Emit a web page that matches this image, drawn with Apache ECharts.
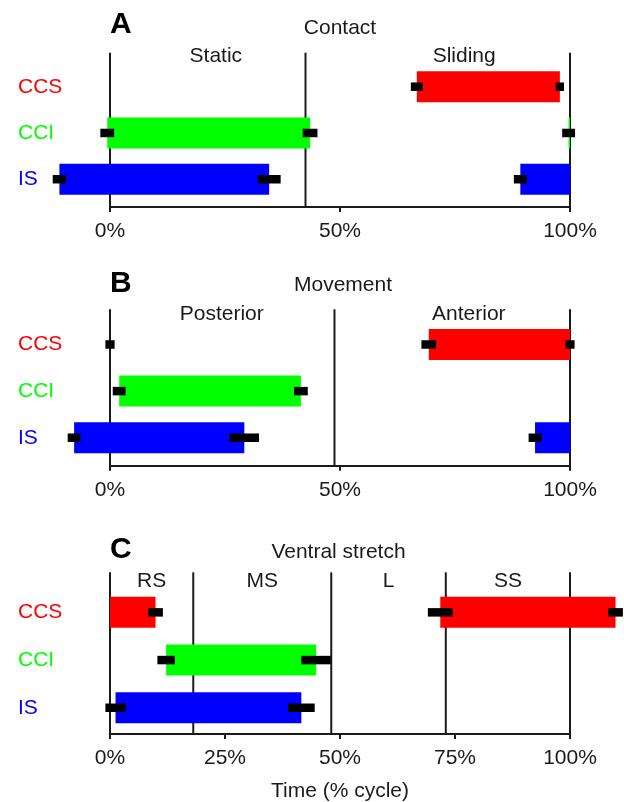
<!DOCTYPE html>
<html>
<head>
<meta charset="utf-8">
<script src="https://cdn.jsdelivr.net/npm/echarts@6/dist/echarts.min.js"></script>
<style>
  html, body { margin: 0; padding: 0; background: #fff; }
  #chart { width: 624px; height: 802px; }
</style>
</head>
<body>
<div id="chart"></div>
<script>
// Rows, listed top to bottom
const rows = ['CCS', 'CCI', 'IS'];
const rowColors = { CCS: '#ff0000', CCI: '#00ff00', IS: '#0000ff' };

// Phase bars: [row, onset %, offset %, onset SD, offset SD]
const contactBars = [
  ['CCS', 66.7, 97.8, 1.3, 0.9],
  ['CCI', -0.6, 43.5, 1.5, 1.6],
  ['CCI', 99.7, 100, 1.4, null],
  ['IS', -11.0, 34.6, 1.45, 2.5],
  ['IS', 89.2, 100, 1.4, null]
];
const contactBounds = [0, 42.5, 100];
const contactPhases = [['Static', 23], ['Sliding', 77]];

const movementBars = [
  ['CCS', 0, 0, 1.0, null],
  ['CCS', 69.3, 100, 1.6, 1.0],
  ['CCI', 2.0, 41.5, 1.4, 1.5],
  ['IS', -7.8, 29.2, 1.4, 3.2],
  ['IS', 92.4, 100, 1.4, null]
];
const movementBounds = [0, 48.8, 100];
const movementPhases = [['Posterior', 24.3], ['Anterior', 78]];

const stretchBars = [
  ['CCS', 0, 9.9, null, 1.6],
  ['CCS', 71.8, 109.9, 2.7, 1.6],
  ['CCI', 12.2, 44.8, 1.9, 3.2],
  ['IS', 1.2, 41.6, 2.2, 2.9]
];
const stretchBounds = [0, 18.1, 48.1, 73.0, 100];
const stretchPhaseNames = ['RS', 'MS', 'L', 'SS'];
// stretch phase names sit midway between consecutive bounds
const stretchPhases = stretchPhaseNames.map((n, i) => [n, (stretchBounds[i] + stretchBounds[i + 1]) / 2]);

// Tick labels on the time axis
const ticksAB = [0, 50, 100];
const ticksC = [0, 25, 50, 75, 100];

const INK = '#1a1a1a';
const FONT = '"Liberation Sans", Arial, Helvetica, sans-serif';
const BAR_H = 31;
const ERR_H = 8.5;
const PHASE_Y = 2.66;

const panels = [
  { letter: 'A', title: 'Contact', bars: contactBars, bounds: contactBounds, phases: contactPhases, ticks: ticksAB,
    top: 52.7, bottom: 207, yMin: -0.6, yMax: 2.735, letterY: 24.5, titleX: 340, titleY: 28.5 },
  { letter: 'B', title: 'Movement', bars: movementBars, bounds: movementBounds, phases: movementPhases, ticks: ticksAB,
    top: 309.3, bottom: 465.7, yMin: -0.6, yMax: 2.755, letterY: 283.5, titleX: 343, titleY: 285 },
  { letter: 'C', title: 'Ventral stretch', bars: stretchBars, bounds: stretchBounds, phases: stretchPhases, ticks: ticksC,
    top: 572.3, bottom: 734, yMin: -0.55, yMax: 2.84, letterY: 549.5, titleX: 338.5, titleY: 552 }
];

const yOf = name => rows.length - 1 - rows.indexOf(name);
const nameOf = y => rows[rows.length - 1 - y];

const rich = {};
rows.forEach(r => { rich[r] = { color: rowColors[r], fontSize: 21, fontFamily: FONT }; });

const option = {
  backgroundColor: '#ffffff',
  animation: false,
  grid: [], xAxis: [], yAxis: [], series: [], graphic: []
};

panels.forEach((p, i) => {
  option.grid.push({ left: 110, right: 54, top: p.top, height: p.bottom - p.top, outerBoundsMode: 'none', containLabel: false });
  const isLast = i === panels.length - 1;
  option.xAxis.push({
    gridIndex: i, type: 'value', min: 0, max: 100, interval: p.ticks[1] - p.ticks[0],
    name: isLast ? 'Time (% cycle)' : '',
    nameLocation: 'middle', nameGap: 47,
    nameTextStyle: { fontSize: 21, color: INK, fontFamily: FONT },
    axisLine: { onZero: false, lineStyle: { color: INK, width: 2 } },
    axisTick: { length: 5, lineStyle: { color: INK, width: 2 } },
    axisLabel: { formatter: '{value}%', fontSize: 21, color: INK, fontFamily: FONT, margin: 14 },
    splitLine: { show: false }
  });
  option.yAxis.push({
    gridIndex: i, type: 'value', min: p.yMin, max: p.yMax,
    axisLine: { show: false }, axisTick: { show: false }, splitLine: { show: false },
    axisLabel: {
      customValues: [0, 1, 2], align: 'left', margin: 92,
      formatter: v => { const n = nameOf(Math.round(v)); return '{' + n + '|' + n + '}'; },
      rich: rich
    }
  });

  // phase boundary lines
  option.series.push({
    type: 'custom', xAxisIndex: i, yAxisIndex: i, clip: false, z: 1, silent: true,
    data: p.bounds.map(b => [b]),
    renderItem: (params, api) => {
      const x = api.value(0);
      const a = api.coord([x, p.yMax]);
      const b = api.coord([x, p.yMin]);
      return { type: 'line', shape: { x1: a[0], y1: a[1], x2: b[0], y2: b[1] }, style: { stroke: INK, lineWidth: 2 } };
    }
  });

  // phase bars
  option.series.push({
    type: 'custom', xAxisIndex: i, yAxisIndex: i, clip: false, z: 2, silent: true,
    encode: { x: [1, 2], y: 0 },
    data: p.bars.map(b => [yOf(b[0]), b[1], b[2]]),
    renderItem: (params, api) => {
      const y = api.value(0);
      const a = api.coord([api.value(1), y]);
      const b = api.coord([api.value(2), y]);
      return { type: 'rect', shape: { x: a[0], y: a[1] - BAR_H / 2, width: b[0] - a[0], height: BAR_H },
               style: { fill: rowColors[nameOf(y)] } };
    }
  });

  // SD bars at onset and offset
  const errs = [];
  p.bars.forEach(b => {
    if (b[3] != null) errs.push([yOf(b[0]), b[1], b[3]]);
    if (b[4] != null) errs.push([yOf(b[0]), b[2], b[4]]);
  });
  option.series.push({
    type: 'custom', xAxisIndex: i, yAxisIndex: i, clip: false, z: 3, silent: true,
    encode: { x: 1, y: 0 },
    data: errs,
    renderItem: (params, api) => {
      const y = api.value(0), c = api.value(1), sd = api.value(2);
      const a = api.coord([c - sd, y]);
      const b = api.coord([c + sd, y]);
      return { type: 'rect', shape: { x: a[0], y: a[1] - ERR_H / 2, width: b[0] - a[0], height: ERR_H },
               style: { fill: '#000000' } };
    }
  });

  // phase names
  option.series.push({
    type: 'custom', xAxisIndex: i, yAxisIndex: i, clip: false, z: 4, silent: true,
    data: p.phases.map(ph => [ph[1], PHASE_Y]),
    renderItem: (params, api) => {
      const pt = api.coord([api.value(0), api.value(1)]);
      return { type: 'text', x: pt[0], y: pt[1],
               style: { text: p.phases[params.dataIndex][0], fill: INK, font: '21px ' + FONT,
                        align: 'center', verticalAlign: 'middle', textAlign: 'center', textVerticalAlign: 'middle' } };
    }
  });

  option.graphic.push({
    type: 'text', x: 110, y: p.letterY,
    style: { text: p.letter, fill: '#000', font: 'bold 30px ' + FONT, align: 'left', verticalAlign: 'middle',
             textAlign: 'left', textVerticalAlign: 'middle' }
  });
  option.graphic.push({
    type: 'text', x: p.titleX, y: p.titleY,
    style: { text: p.title, fill: INK, font: '21px ' + FONT, align: 'center', verticalAlign: 'middle',
             textAlign: 'center', textVerticalAlign: 'middle' }
  });
});

const chart = echarts.init(document.getElementById('chart'), null, { renderer: 'canvas' });
chart.setOption(option);
</script>
</body>
</html>
